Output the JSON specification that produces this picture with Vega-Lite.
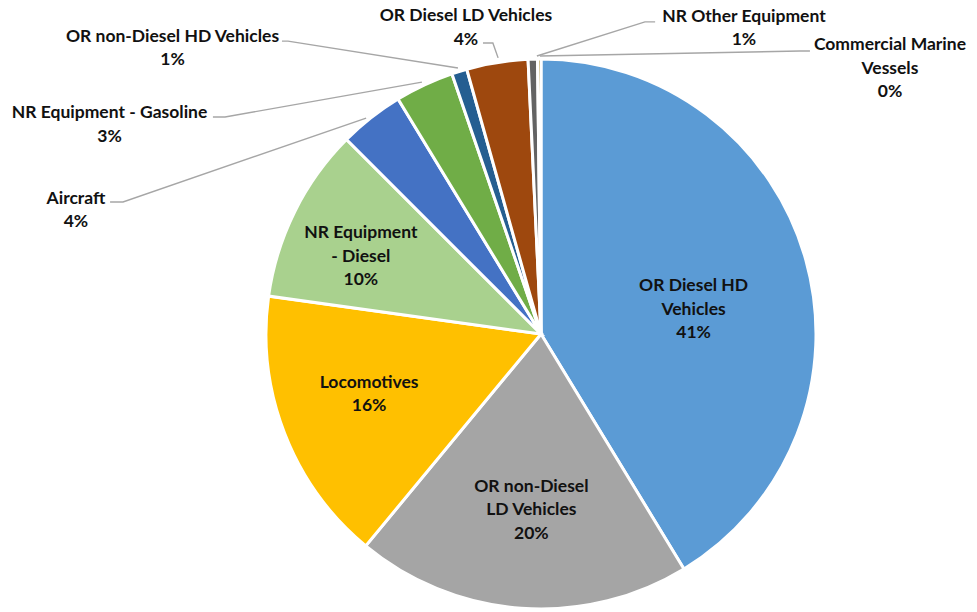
{
  "$schema": "https://vega.github.io/schema/vega-lite/v6.json",
  "width": 977,
  "height": 612,
  "padding": 0,
  "autosize": {"type": "none"},
  "background": "white",
  "config": {"view": {"stroke": null}},
  "datasets": {
    "slices": [
      {"idx": 1, "category": "OR Diesel HD Vehicles", "value": 41.3, "label": "OR Diesel HD\nVehicles\n41%", "lx": 55.5, "ly": 15.6},
      {"idx": 2, "category": "OR non-Diesel LD Vehicles", "value": 19.7, "label": "OR non-Diesel\nLD Vehicles\n20%", "lx": -3.5, "ly": -57.3},
      {"idx": 3, "category": "Locomotives", "value": 16.2, "label": "Locomotives\n16%", "lx": -62.5, "ly": -19.6},
      {"idx": 4, "category": "NR Equipment - Diesel", "value": 10.3, "label": "NR Equipment\n- Diesel\n10%", "lx": -65.5, "ly": 34.9},
      {"idx": 5, "category": "Aircraft", "value": 3.8, "label": "Aircraft\n4%", "lx": -169.1, "ly": 47.3},
      {"idx": 6, "category": "NR Equipment - Gasoline", "value": 3.45, "label": "NR Equipment - Gasoline\n3%", "lx": -156.9, "ly": 78.4},
      {"idx": 7, "category": "OR non-Diesel HD Vehicles", "value": 0.9, "label": "OR non-Diesel HD Vehicles\n1%", "lx": -134.0, "ly": 106.3},
      {"idx": 8, "category": "OR Diesel LD Vehicles", "value": 3.6, "label": "OR Diesel LD Vehicles\n4%", "lx": -27.3, "ly": 113.8},
      {"idx": 9, "category": "NR Other Equipment", "value": 0.55, "label": "NR Other Equipment\n1%", "lx": 73.8, "ly": 113.6},
      {"idx": 10, "category": "Commercial Marine Vessels", "value": 0.2, "label": "Commercial Marine\nVessels\n0%", "lx": 126.9, "ly": 103.1}
    ],
    "leaders": [
      {"category": "OR non-Diesel HD Vehicles", "seq": 1, "px": -94.2, "py": 106.5},
      {"category": "OR non-Diesel HD Vehicles", "seq": 2, "px": -92.0, "py": 106.5},
      {"category": "OR non-Diesel HD Vehicles", "seq": 3, "px": -30.2, "py": 96.7},
      {"category": "NR Equipment - Gasoline", "seq": 1, "px": -119.3, "py": 78.9},
      {"category": "NR Equipment - Gasoline", "seq": 2, "px": -114.9, "py": 78.9},
      {"category": "NR Equipment - Gasoline", "seq": 3, "px": -43.3, "py": 91.6},
      {"category": "Aircraft", "seq": 1, "px": -156.7, "py": 48.0},
      {"category": "Aircraft", "seq": 2, "px": -152.0, "py": 48.0},
      {"category": "Aircraft", "seq": 3, "px": -63.6, "py": 78.5},
      {"category": "OR Diesel LD Vehicles", "seq": 1, "px": -21.1, "py": 105.8},
      {"category": "OR Diesel LD Vehicles", "seq": 2, "px": -17.5, "py": 105.8},
      {"category": "OR Diesel LD Vehicles", "seq": 3, "px": -15.6, "py": 100.4},
      {"category": "NR Other Equipment", "seq": 1, "px": 41.5, "py": 113.5},
      {"category": "NR Other Equipment", "seq": 2, "px": 37.8, "py": 113.5},
      {"category": "NR Other Equipment", "seq": 3, "px": -1.5, "py": 101.1},
      {"category": "Commercial Marine Vessels", "seq": 1, "px": 97.8, "py": 102.9},
      {"category": "Commercial Marine Vessels", "seq": 2, "px": 94.2, "py": 102.9},
      {"category": "Commercial Marine Vessels", "seq": 3, "px": -0.4, "py": 101.1}
    ]
  },
  "layer": [
    {
      "data": {"name": "slices"},
      "mark": {"type": "arc", "outerRadius": 275, "stroke": "white", "strokeWidth": 3},
      "encoding": {
        "theta": {"field": "value", "type": "quantitative", "stack": true},
        "order": {"field": "idx", "type": "quantitative"},
        "x": {"datum": 0, "type": "quantitative", "scale": {"domain": [-196.727, 158.545], "nice": false, "zero": false}, "axis": null},
        "y": {"datum": 0, "type": "quantitative", "scale": {"domain": [-101.09, 121.45], "nice": false, "zero": false}, "axis": null},
        "color": {
          "field": "category", "type": "nominal", "legend": null,
          "scale": {
            "domain": ["OR Diesel HD Vehicles", "OR non-Diesel LD Vehicles", "Locomotives", "NR Equipment - Diesel", "Aircraft", "NR Equipment - Gasoline", "OR non-Diesel HD Vehicles", "OR Diesel LD Vehicles", "NR Other Equipment", "Commercial Marine Vessels"],
            "range": ["#5B9BD5", "#A5A5A5", "#FFC000", "#A9D18E", "#4472C4", "#70AD47", "#255E91", "#9E480E", "#636363", "#997300"]
          }
        }
      }
    },
    {
      "data": {"name": "leaders"},
      "mark": {"type": "line", "stroke": "#A6A6A6", "strokeWidth": 1.4},
      "encoding": {
        "x": {"field": "px", "type": "quantitative"},
        "y": {"field": "py", "type": "quantitative"},
        "detail": {"field": "category", "type": "nominal"},
        "order": {"field": "seq", "type": "quantitative"}
      }
    },
    {
      "data": {"name": "slices"},
      "mark": {"type": "text", "font": "Lato", "fontWeight": "bold", "fontSize": 17.5, "lineBreak": "\n", "lineHeight": 23.5, "align": "center", "baseline": "alphabetic", "fill": "#111111"},
      "encoding": {
        "x": {"field": "lx", "type": "quantitative"},
        "y": {"field": "ly", "type": "quantitative"},
        "text": {"field": "label", "type": "nominal"}
      }
    }
  ]
}
